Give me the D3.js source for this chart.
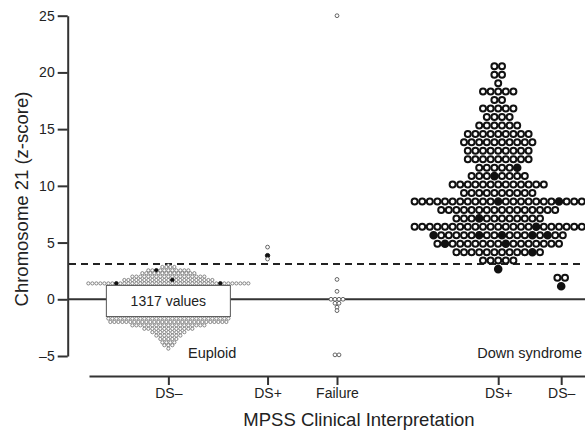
<!DOCTYPE html>
<html>
<head>
<meta charset="utf-8">
<script src="https://cdnjs.cloudflare.com/ajax/libs/d3/7.8.5/d3.min.js"></script>
<style>
  body { margin: 0; background: #fff; }
  svg { display: block; font-family: "Liberation Sans", Arial, Helvetica, sans-serif; }
  .axis path, .axis line { stroke: #333; stroke-width: 2px; }
  .axis text { font-size: 14px; fill: #222; }
  .label { fill: #222; }
</style>
</head>
<body>
<script>

// categories on the bottom axis and where each one sits (0-100 units)
var categories = ["DS\u2013", "DS+", "Failure", "DS+", "DS\u2013"];
var catPos = [16, 36, 50, 82.5, 95.2];

var yTicks = [-5, 0, 5, 10, 15, 20, 25];
var yTickLabels = ["\u20135", "0", "5", "10", "15", "20", "25"];

var threshold = 3.1;

// each row: [z-score, number of dots in that row]
// euploid: 1317 values, most of them hidden behind the box
var euploidRows = [[3.0, 1], [2.85, 4], [2.55, 11], [2.3, 14], [2.0, 19], [1.7, 23], [1.4, 41],
                   [-1.7, 31], [-2.0, 30], [-2.3, 19], [-2.6, 13], [-2.9, 9], [-3.2, 7],
                   [-3.5, 5], [-3.8, 4], [-4.05, 3], [-4.35, 1]];
var euploidFilled = [[1.4, 7], [1.4, 33], [1.7, 12], [2.55, 2]];

var dsPlusRows = [[4.6, 1], [3.85, 1], [3.55, 1]];
var dsPlusFilled = [[3.85, 0]];

var failureRows = [[25, 1], [1.75, 1], [0.7, 1], [0, 4], [-0.35, 2], [-0.7, 1], [-1.0, 1], [-4.9, 2]];
var failureFilled = [];

var downRows = [[20.54, 2], [19.80, 2], [19.05, 1], [18.31, 5], [17.56, 2], [16.82, 5], [16.07, 4],
                [15.33, 6], [14.58, 9], [13.84, 10], [13.09, 9], [12.35, 9], [11.60, 6], [10.86, 8],
                [10.11, 13], [9.37, 10], [8.62, 23], [7.88, 16], [7.13, 12], [6.39, 23], [5.64, 18],
                [4.90, 17], [4.15, 12], [3.41, 5], [2.66, 1]];
var downFilled = [[11.60, 5], [10.86, 3], [8.62, 11], [8.62, 19], [7.13, 3], [6.39, 16],
                  [5.64, 0], [5.64, 6], [5.64, 9], [5.64, 13], [5.64, 15], [4.90, 1], [4.90, 9],
                  [4.15, 10], [2.66, 0]];

var dsMinusRows = [[1.9, 2], [1.15, 1]];
var dsMinusFilled = [[1.15, 0]];

var width = 585, height = 431;

var svg = d3.select("body").append("svg")
    .attr("width", width)
    .attr("height", height);

var y = d3.scaleLinear().domain([-5, 25]).range([356, 15.7]);
var x = d3.scaleLinear().domain([0, 100]).range([89, 585]);

// y axis
svg.append("g")
    .attr("class", "axis")
    .attr("transform", "translate(67.7,0)")
    .call(d3.axisLeft(y).tickValues(yTicks).tickSize(10).tickSizeOuter(0)
      .tickFormat(function(d, i) { return yTickLabels[i]; }));

// x axis
svg.append("g")
    .attr("class", "axis")
    .attr("transform", "translate(0,376)")
    .call(d3.axisBottom(x).tickValues(catPos).tickSize(9).tickSizeOuter(0)
      .tickFormat(function(d, i) { return categories[i]; }));

// zero line + threshold
svg.append("line")
    .attr("x1", 68).attr("x2", width)
    .attr("y1", y(0)).attr("y2", y(0))
    .attr("stroke", "#333").attr("stroke-width", 2);

svg.append("line")
    .attr("x1", 69).attr("x2", width)
    .attr("y1", y(threshold)).attr("y2", y(threshold))
    .attr("stroke", "#222").attr("stroke-width", 2)
    .attr("stroke-dasharray", "7,5");

// turn rows into dots, centred on the group position
function swarm(rows, filled, cx, step) {
  var pts = [];
  rows.forEach(function(r) {
    for (var j = 0; j < r[1]; j++) {
      pts.push({
        v: r[0],
        x: cx + (j - (r[1] - 1) / 2) * step,
        filled: filled.some(function(f) { return f[0] === r[0] && f[1] === j; })
      });
    }
  });
  return pts;
}

function drawDots(pts, r, sw, col) {
  svg.append("g").selectAll("circle")
      .data(pts)
    .enter().append("circle")
      .attr("cx", function(d) { return d.x; })
      .attr("cy", function(d) { return y(d.v); })
      .attr("r", function(d) { return d.filled ? r + 0.3 : r; })
      .attr("fill", function(d) { return d.filled ? "#111" : "#fff"; })
      .attr("stroke", function(d) { return d.filled ? "#111" : col; })
      .attr("stroke-width", sw);
}

drawDots(swarm(euploidRows, euploidFilled, x(catPos[0]), 4), 1.6, 0.8, "#6a6a6a");
drawDots(swarm(dsPlusRows, dsPlusFilled, x(catPos[1]), 4), 1.9, 0.9, "#555");
drawDots(swarm(failureRows, failureFilled, x(catPos[2]), 4), 1.9, 0.9, "#555");
drawDots(swarm(downRows, downFilled, x(catPos[3]), 7.6), 3.0, 2.0, "#111");
drawDots(swarm(dsMinusRows, dsMinusFilled, x(catPos[4]), 7.6), 3.0, 2.0, "#111");

// box that hides the bulk of the euploid values
var cx0 = x(catPos[0]);
var boxTop = y(1.4) + 2, boxBot = y(-1.7) - 2;
svg.append("rect")
    .attr("x", cx0 - 62).attr("y", boxTop)
    .attr("width", 124).attr("height", boxBot - boxTop)
    .attr("fill", "#fff").attr("stroke", "#555").attr("stroke-width", 1);

svg.append("text")
    .attr("class", "label")
    .attr("x", cx0).attr("y", (boxTop + boxBot) / 2)
    .attr("dy", "0.35em")
    .attr("text-anchor", "middle")
    .style("font-size", "14px")
    .text("1317 values");

// group labels
svg.append("text")
    .attr("class", "label")
    .attr("x", 188).attr("y", 358)
    .style("font-size", "14.5px")
    .text("Euploid");

svg.append("text")
    .attr("class", "label")
    .attr("x", 582).attr("y", 358)
    .attr("text-anchor", "end")
    .style("font-size", "14.5px")
    .text("Down syndrome");

// axis titles
svg.append("text")
    .attr("class", "label")
    .attr("transform", "translate(28,199) rotate(-90)")
    .attr("text-anchor", "middle")
    .style("font-size", "18.5px")
    .text("Chromosome 21 (z-score)");

svg.append("text")
    .attr("class", "label")
    .attr("x", 359).attr("y", 426)
    .attr("text-anchor", "middle")
    .style("font-size", "18.5px")
    .text("MPSS Clinical Interpretation");

</script>
</body>
</html>
